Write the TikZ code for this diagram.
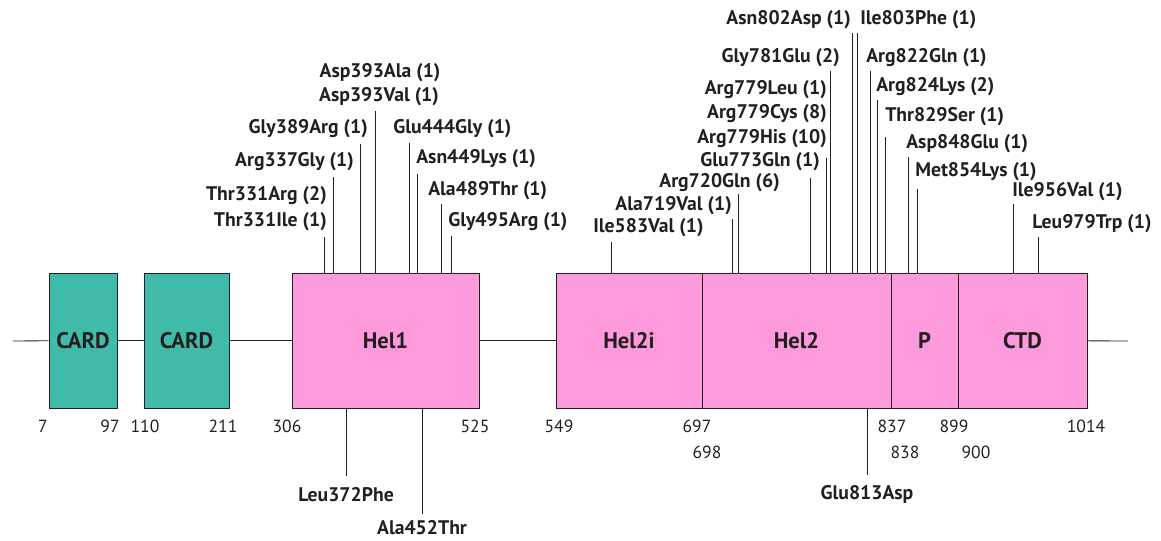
\documentclass[tikz,border=0pt]{standalone}
\usepackage{fontspec}
\setmainfont{PT Sans}
\usetikzlibrary{fit}
\definecolor{cardteal}{HTML}{40BBA9}
\definecolor{helpink}{HTML}{FC9ADC}
\definecolor{inkdark}{HTML}{231F20}
\begin{document}
\begin{tikzpicture}[x=0.025cm, y=-0.025cm,
    every node/.style={text=inkdark},
    dombox/.style={draw=inkdark, line width=0.7pt, inner sep=0pt},
    card/.style={dombox, fill=cardteal},
    helic/.style={dombox, fill=helpink},
    dname/.style={font=\fontsize{16}{19}\bfseries\selectfont},
    mutlbl/.style={font=\fontsize{14}{16}\bfseries\selectfont, inner sep=0pt},
    poslbl/.style={font=\fontsize{12.5}{15}\selectfont, inner sep=0pt},
    mutline/.style={draw=inkdark, line width=0.6pt}]
    \useasboundingbox (0,0) rectangle (1161,540);

    % domains
    \node[card, fit={(49,273) (117,408)}] (card1) {};
    \node[card, fit={(144,273) (229,408)}] (card2) {};
    \node[helic, fit={(292,273) (479,408)}] (hel1) {};
    \node[helic, fit={(556,273) (702,408)}] (hel2i) {};
    \node[helic, fit={(702,273) (891,408)}] (hel2) {};
    \node[helic, fit={(891,273) (958,408)}] (pdom) {};
    \node[helic, fit={(958,273) (1087,408)}] (ctd) {};
    \node[dname] (card1lbl) at (card1.center) {CARD};
    \node[dname] (card2lbl) at (card2.center) {CARD};
    \node[dname] (hel1lbl) at (hel1.center) {Hel1};
    \node[dname] (hel2ilbl) at (hel2i.center) {Hel2i};
    \node[dname] (hel2lbl) at (hel2.center) {Hel2};
    \node[dname] (plbl) at (pdom.center) {P};
    \node[dname] (ctdlbl) at (ctd.center) {CTD};

    % backbone
    \coordinate (nterm) at (13,341);
    \coordinate (cterm) at (1128,341);
    \draw[mutline] (nterm) -- (card1);
    \draw[mutline] (card1) -- (card2);
    \draw[mutline] (card2) -- (hel1);
    \draw[mutline] (hel1) -- (hel2i);
    \draw[mutline] (ctd) -- (cterm);

    % residue numbers
    \foreach \n/\x/\y in {7/43/426, 97/110/426, 110/145/426, 211/223/426,
        306/287/426, 525/475/426, 549/559/426, 697/697/426, 837/892/426,
        899/954/426, 1014/1086/426, 698/707/452, 838/905/452, 900/976/452}
      \node[poslbl] (pos\n) at (\x,\y) {\n};

    % mutation ticks above
    \foreach \x/\t in {324/237, 333/177, 360/144, 375/111, 409/143, 417/174,
        441/204, 451/236, 611/242, 732/219, 738/194, 810/178, 826/158,
        830/71, 852/33, 857/33, 870/71, 877/100, 885/137, 908/157,
        917/189, 1013/204, 1038/237}
      \draw[mutline] (\x,273) -- (\x,\t);

    % mutation labels above
    \node[mutlbl, anchor=mid east] (m331i) at (327,223) {Thr331Ile (1)};
    \node[mutlbl, anchor=mid east] (m331r) at (327,197) {Thr331Arg (2)};
    \node[mutlbl, anchor=mid east] (m337) at (354,163) {Arg337Gly (1)};
    \node[mutlbl, anchor=mid east] (m389) at (368,130) {Gly389Arg (1)};
    \node[mutlbl] (m393v) at (379,97) {Asp393Val (1)};
    \node[mutlbl] (m393a) at (380,73) {Asp393Ala (1)};
    \node[mutlbl, anchor=mid west] (m444) at (393,130) {Glu444Gly (1)};
    \node[mutlbl, anchor=mid west] (m449) at (416,160) {Asn449Lys (1)};
    \node[mutlbl, anchor=mid west] (m489) at (428,192) {Ala489Thr (1)};
    \node[mutlbl, anchor=mid west] (m495) at (448,223) {Gly495Arg (1)};
    \node[mutlbl, anchor=mid west] (m583) at (593,229) {Ile583Val (1)};
    \node[mutlbl, anchor=mid east] (m719) at (732,207) {Ala719Val (1)};
    \node[mutlbl, anchor=mid east] (m720) at (780,184) {Arg720Gln (6)};
    \node[mutlbl, anchor=mid east] (m773) at (820,163) {Glu773Gln (1)};
    \node[mutlbl, anchor=mid east] (m779h) at (827,140) {Arg779His (10)};
    \node[mutlbl, anchor=mid east] (m779c) at (827,115) {Arg779Cys (8)};
    \node[mutlbl, anchor=mid east] (m779l) at (827,91) {Arg779Leu (1)};
    \node[mutlbl, anchor=mid east] (m781) at (840,59) {Gly781Glu (2)};
    \node[mutlbl, anchor=mid east] (m802) at (851,21) {Asn802Asp (1)};
    \node[mutlbl, anchor=mid west] (m803) at (860,21) {Ile803Phe (1)};
    \node[mutlbl, anchor=mid west] (m822) at (866,59) {Arg822Gln (1)};
    \node[mutlbl, anchor=mid west] (m824) at (876,88) {Arg824Lys (2)};
    \node[mutlbl, anchor=mid west] (m829) at (885,118) {Thr829Ser (1)};
    \node[mutlbl, anchor=mid west] (m848) at (906,145) {Asp848Glu (1)};
    \node[mutlbl, anchor=mid west] (m854) at (915,173) {Met854Lys (1)};
    \node[mutlbl, anchor=mid west] (m956) at (1012,193) {Ile956Val (1)};
    \node[mutlbl, anchor=mid west] (m979) at (1032,225) {Leu979Trp (1)};

    % mutations below
    \node[mutlbl] (m372) at (346,495) {Leu372Phe};
    \node[mutlbl] (m452) at (422,528) {Ala452Thr};
    \node[mutlbl] (m813) at (867,494) {Glu813Asp};
    \draw[mutline] (346,408) -- (346,476);
    \draw[mutline] (422,408) -- (422,514);
    \draw[mutline] (867,408) -- (867,475);
\end{tikzpicture}
\end{document}
